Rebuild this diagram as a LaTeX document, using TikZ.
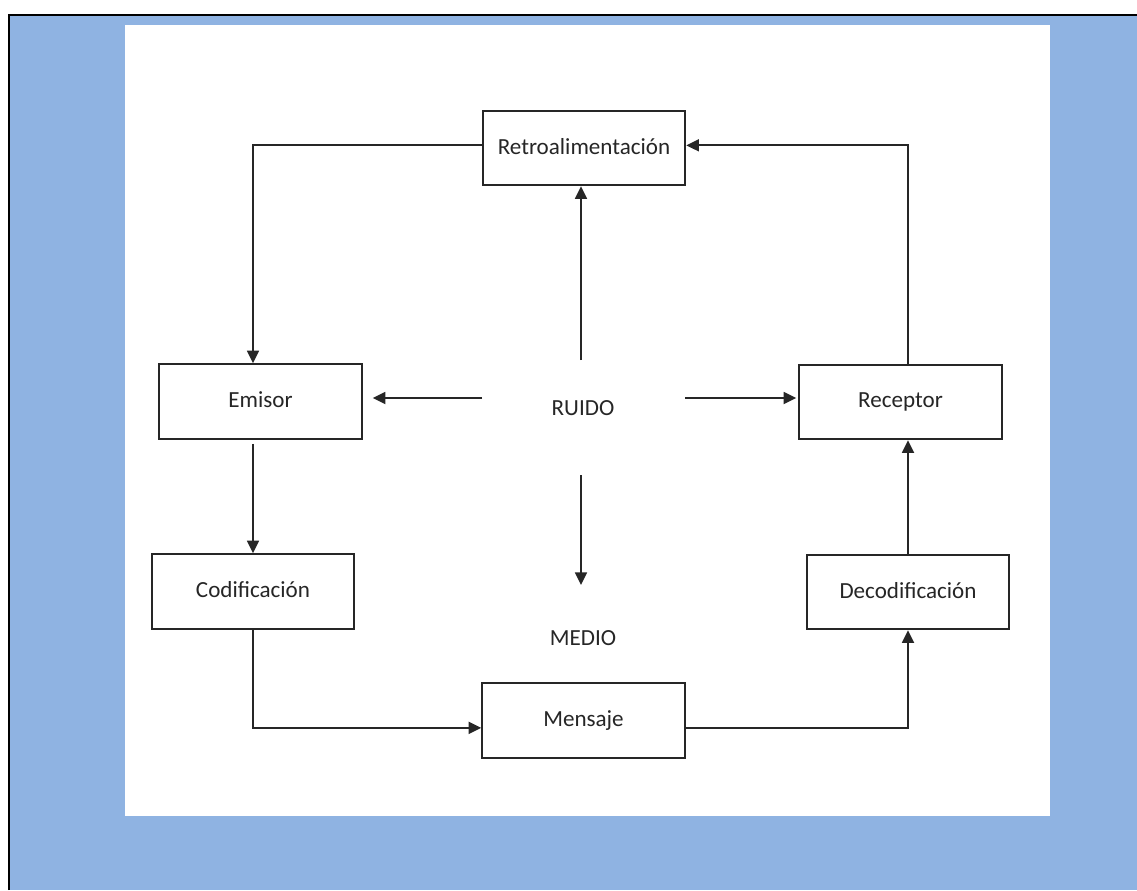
\documentclass[tikz,border=0pt]{standalone}
\usepackage{fontspec}
\setmainfont{Carlito}
\usetikzlibrary{arrows.meta,calc}
\definecolor{panelblue}{HTML}{8FB3E2}
\definecolor{inkgray}{HTML}{262626}
\begin{document}
\begin{tikzpicture}[x=0.75pt,y=-0.75pt,
  stagebox/.style={draw=black!85,line width=1.4pt,fill=white,minimum width=152pt,minimum height=56pt,
    inner sep=0pt,font=\fontsize{17.3}{19}\selectfont,text=inkgray},
  plainlabel/.style={font=\fontsize{17.3}{19}\selectfont,text=inkgray,inner sep=0pt},
  link/.style={draw=black!85,line width=1.3pt},
  arr/.style={link,-{Triangle[length=9.5pt,width=9pt]}}]
\useasboundingbox (0,0) rectangle (1137,890);
% panel and frame
\fill[panelblue] (9,15) rectangle (1137,890);
\draw[black,line width=2.2pt] (9,890) -- (9,15) -- (1137,15);
\fill[white] (125,25) rectangle (1050,816);
% stages
\node[stagebox] (retro) at (584,148) {\raisebox{3pt}{Retroalimentación}};
\node[stagebox] (emisor) at (260.5,401.5) {\raisebox{3pt}{Emisor}};
\node[stagebox] (recep) at (900.5,402) {\raisebox{3pt}{Receptor}};
\node[stagebox] (cod) at (253,591.5) {\raisebox{3pt}{Codificación}};
\node[stagebox] (msg) at (583.5,720.5) {\raisebox{3pt}{Mensaje}};
\node[stagebox] (decod) at (908,592) {\raisebox{3pt}{Decodificación}};
\node[plainlabel] (ruido) at (583,408) {RUIDO};
\node[plainlabel] (medio) at (583,638) {MEDIO};
% noise arrows
\coordinate (ru-n) at (581,360);
\coordinate (ru-w) at (482,398);
\coordinate (ru-e) at (685,398);
\coordinate (ru-s) at (581,475);
\coordinate (ru-s-end) at (581,585);
\draw[arr] (ru-n) -- (ru-n |- retro.south);
\draw[arr,shorten >=7.5pt] (ru-w) -- (emisor.east |- ru-w);
\draw[arr,shorten >=1.5pt] (ru-e) -- (recep.west |- ru-e);
\draw[arr] (ru-s) -- (ru-s-end);
% communication loop
\draw[arr] ([yshift=2pt]retro.west) -| (cod.north |- emisor.north);
\draw[arr,shorten <=3pt] (cod.north |- emisor.south) -- (cod.north);
\draw[arr] (cod.south) |- ([yshift=-5.5pt]msg.west);
\draw[arr] ([yshift=-5.5pt]msg.east) -| (decod.south);
\draw[arr] (decod.north) -- (decod.north |- recep.south);
\draw[arr] (decod.north |- recep.north) |- ([yshift=2pt]retro.east);
\end{tikzpicture}
\end{document}
